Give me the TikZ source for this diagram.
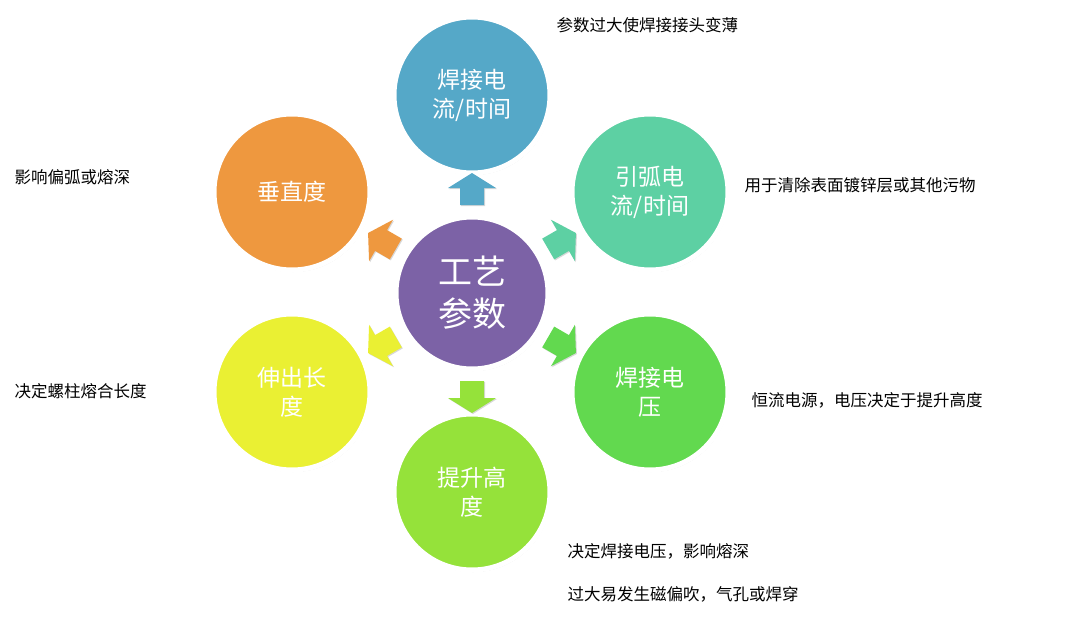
\documentclass[tikz,border=0pt]{standalone}
\usepackage{fontspec}
\setmainfont{Noto Sans CJK SC}
\usetikzlibrary{shadows, positioning, calc}
\definecolor{cblue}{HTML}{55A8C8}
\definecolor{cteal}{HTML}{5DD0A3}
\definecolor{cgreen}{HTML}{62D94F}
\definecolor{clime}{HTML}{95E23A}
\definecolor{cyellow}{HTML}{EAF033}
\definecolor{corange}{HTML}{EE983F}
\definecolor{cpurple}{HTML}{7C62A6}
\begin{document}
\begin{tikzpicture}[x=1pt,y=-1pt,
    para node/.style={circle,draw=white,line width=5pt,minimum size=156pt,inner sep=0pt,
        align=center,text=white,font=\fontsize{23}{29}\selectfont,
        drop shadow={shadow xshift=1pt,shadow yshift=-2pt,opacity=.35}},
    para arrow/.style={draw=none,drop shadow={shadow xshift=1pt,shadow yshift=-1pt,opacity=.3}},
    note/.style={anchor=west,font=\fontsize{16.5}{20}\selectfont}]
  \useasboundingbox[fill=white] (0,0) rectangle (1080,627);
  \node[para node,fill=cpurple,minimum size=152pt,font=\fontsize{34}{42}\selectfont] (center) at (472,293) {工艺\\参数};
  \node[para node,fill=cblue]   (current) at (472,95)  {焊接电\\流/时间};
  \node[para node,fill=cteal]   (arc)     at (650,192) {引弧电\\流/时间};
  \node[para node,fill=cgreen]  (voltage) at (650,392) {焊接电\\压};
  \node[para node,fill=clime]   (lift)    at (472,492) {提升高\\度};
  \node[para node,fill=cyellow] (stick)   at (292,392) {伸出长\\度};
  \node[para node,fill=corange] (vert)    at (292,192) {垂直度};

  % block arrows from the centre outwards
  \foreach \ang/\col in {90/cblue, 30/cteal, -30/cgreen, -90/clime, -150/cyellow, 150/corange}
    \path[para arrow,fill=\col,shift={($(center)+(\ang:104pt)$)},rotate=\ang]
      (-16pt,-12pt) -- (1pt,-12pt) -- (1pt,-24pt) -- (16pt,0pt) -- (1pt,24pt)
      -- (1pt,12pt) -- (-16pt,12pt) -- cycle;

  \node[note] (ncurrent) at (553,25)  {参数过大使焊接接头变薄};
  \node[note] (narc)     at (741,185) {用于清除表面镀锌层或其他污物};
  \node[note] (nvoltage) at (748,400) {恒流电源，电压决定于提升高度};
  \node[note] (nlift)    at (564,551) {决定焊接电压，影响熔深};
  \node[note] (nlift2)   at (564,594) {过大易发生磁偏吹，气孔或焊穿};
  \node[note] (nvert)    at (11,177)  {影响偏弧或熔深};
  \node[note] (nstick)   at (11,391)  {决定螺柱熔合长度};
\end{tikzpicture}
\end{document}
